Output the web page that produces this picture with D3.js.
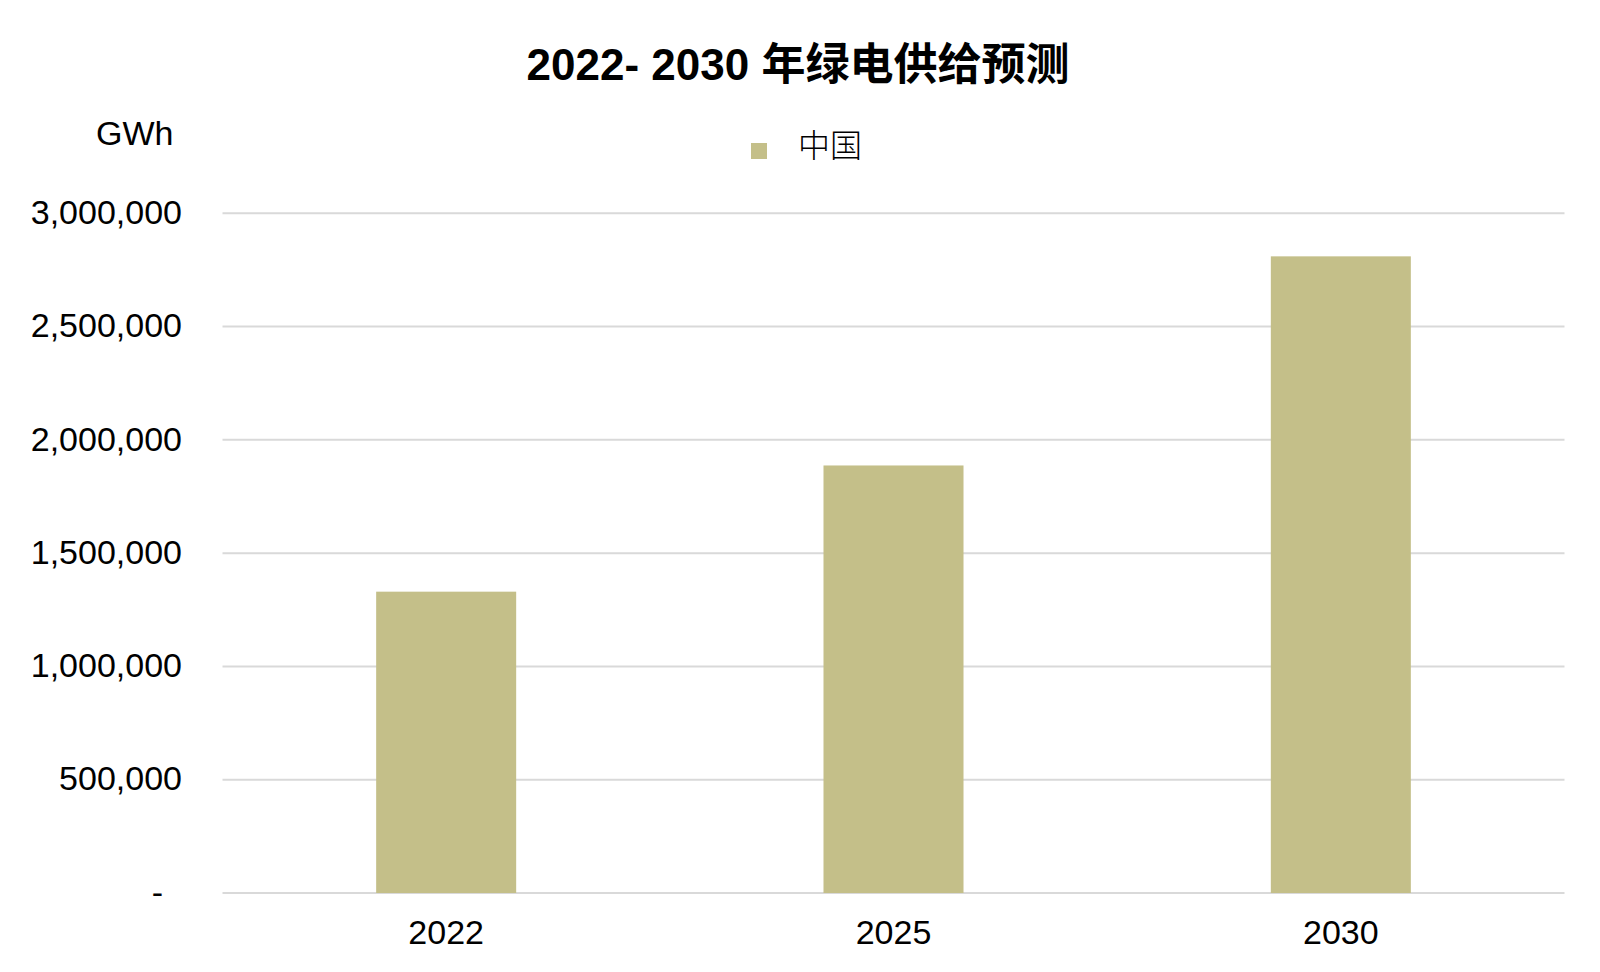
<!DOCTYPE html>
<html><head><meta charset="utf-8">
<script src="https://cdn.jsdelivr.net/npm/d3@7"></script>
<style>
html,body{margin:0;padding:0;background:#fff;}
text{font-family:"Liberation Sans",Arial,"Noto Sans CJK SC",sans-serif;}
</style></head>
<body><svg id="c" width="1600" height="972"></svg>
<script>
const categories = ["2022", "2025", "2030"];
const values = [1330000, 1887000, 2810000];
const yTicks = [0, 500000, 1000000, 1500000, 2000000, 2500000, 3000000];
const seriesName = "中国";
const titleText = "2022- 2030 年绿电供给预测";
const unitText = "GWh";

(function () {
const svg = d3.select("#c");
const mLeft = 222.5, mRight = 1564.5, mTop = 213.3, mBottom = 893;
const x = d3.scaleBand().domain(categories).range([mLeft, mRight]).padding(0);
const y = d3.scaleLinear().domain([0, 3000000]).range([mBottom, mTop]);
const barW = x.bandwidth() * 0.313;
const fmt = d3.format(",");

// gridlines
svg.append("g").selectAll("line").data(yTicks).join("line")
  .attr("x1", mLeft).attr("x2", mRight)
  .attr("y1", d => y(d)).attr("y2", d => y(d))
  .attr("stroke", "#d9d9d9").attr("stroke-width", 2);

// bars
svg.append("g").selectAll("rect").data(values).join("rect")
  .attr("x", (d, i) => x(categories[i]) + x.bandwidth() / 2 - barW / 2)
  .attr("width", barW)
  .attr("y", d => y(d))
  .attr("height", d => y(0) - y(d))
  .attr("fill", "#c4bf89");

// y axis
const yAxis = d3.axisLeft(y).tickValues(yTicks).tickSize(0).tickPadding(0)
  .tickFormat(d => d === 0 ? "-" : fmt(d));
const ya = svg.append("g").attr("transform", `translate(182,0)`).call(yAxis);
ya.select(".domain").remove();
ya.selectAll("text").attr("font-size", 34).attr("fill", "#000")
  .attr("font-family", "Liberation Sans, Arial, sans-serif")
  .attr("dy", "0.3em")
  .attr("dx", d => d === 0 ? -19 : 0);

// x axis
const xAxis = d3.axisBottom(x).tickSize(0).tickPadding(0);
const xa = svg.append("g").attr("transform", `translate(0,${mBottom})`).call(xAxis);
xa.select(".domain").remove();
xa.selectAll("text").attr("font-size", 34).attr("fill", "#000")
  .attr("font-family", "Liberation Sans, Arial, sans-serif")
  .attr("dy", null).attr("y", 51);

// title
svg.append("text").attr("x", 798).attr("y", 80).attr("text-anchor", "middle")
  .attr("font-size", 44).attr("font-weight", "bold").attr("fill", "#000")
  .text(titleText);

// unit
svg.append("text").attr("x", 96).attr("y", 145)
  .attr("font-size", 34).attr("fill", "#000").text(unitText);

// legend
svg.append("rect").attr("x", 751).attr("y", 143).attr("width", 16).attr("height", 16)
  .attr("fill", "#c4bf89");
svg.append("text").attr("x", 798).attr("y", 157)
  .attr("font-size", 32).attr("fill", "#000")
  .attr("font-family", "Noto Sans CJK SC, sans-serif").attr("font-weight", 300)
  .text(seriesName);
})();
</script></body></html>
